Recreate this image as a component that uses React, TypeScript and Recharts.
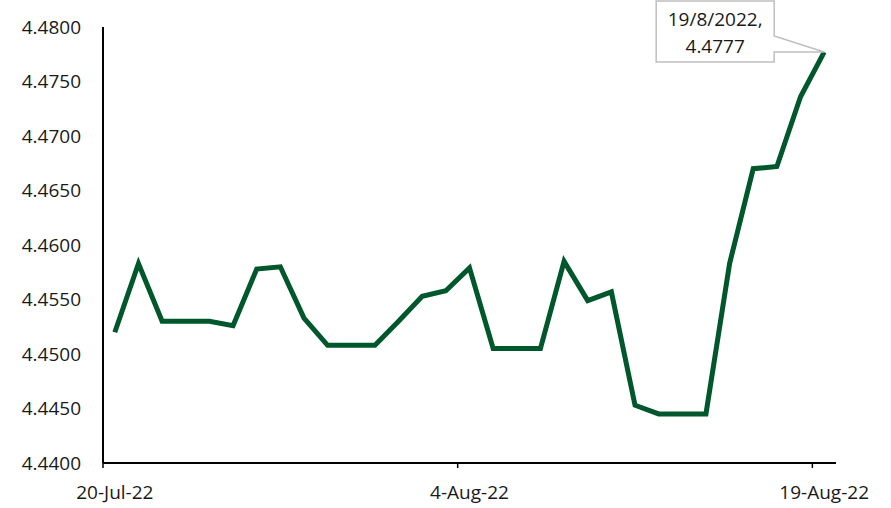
import { LineChart, Line, XAxis, YAxis } from 'recharts'

const dates = [
  '20-Jul-22', '21-Jul-22', '22-Jul-22', '23-Jul-22', '24-Jul-22', '25-Jul-22', '26-Jul-22', '27-Jul-22',
  '28-Jul-22', '29-Jul-22', '30-Jul-22', '31-Jul-22', '1-Aug-22', '2-Aug-22', '3-Aug-22', '4-Aug-22',
  '5-Aug-22', '6-Aug-22', '7-Aug-22', '8-Aug-22', '9-Aug-22', '10-Aug-22', '11-Aug-22', '12-Aug-22',
  '13-Aug-22', '14-Aug-22', '15-Aug-22', '16-Aug-22', '17-Aug-22', '18-Aug-22', '19-Aug-22',
]

const rates = [
  4.4520, 4.4583, 4.4530, 4.4530, 4.4530, 4.4526, 4.4578, 4.4580,
  4.4533, 4.4508, 4.4508, 4.4508, 4.4530, 4.4553, 4.4558, 4.4579,
  4.4505, 4.4505, 4.4505, 4.4585, 4.4549, 4.4557, 4.4453, 4.4445,
  4.4445, 4.4445, 4.4583, 4.4670, 4.4672, 4.4736, 4.4777,
]

const yTicks = [4.44, 4.445, 4.45, 4.455, 4.46, 4.465, 4.47, 4.475, 4.48]
const calloutDate = '19/8/2022'

const FONT = '"Open Sans", sans-serif'
const W = 891
const H = 508
const PLOT_LEFT = 103
const PLOT_RIGHT = 836
const PLOT_BOTTOM = 463
const HALF_BAND = (PLOT_RIGHT - PLOT_LEFT) / dates.length / 2

const data = dates.map((d, i) => ({ date: d, rate: rates[i] }))

function DateTick(props: any) {
  const { x, y, payload } = props
  return (
    <g>
      <line x1={x - HALF_BAND} x2={x - HALF_BAND} y1={y} y2={y + 5} stroke="#000" strokeWidth={1.5} />
      <text x={x} y={y + 36} textAnchor="middle" fontFamily={FONT} fontSize={19} fill="#1a1a1a">
        {payload.value}
      </text>
    </g>
  )
}

function Callout(props: any) {
  const { x, y, index, value } = props
  if (index !== rates.length - 1) return null
  const left = x - 168
  const right = x - 50
  const top = y - 51
  const bottom = y + 10
  const path = `M${left},${top} H${right} V${y - 16} L${x},${y} L${right},${y} V${bottom} H${left} Z`
  return (
    <g>
      <path d={path} fill="#fff" stroke="#bfbfbf" strokeWidth={1.5} />
      <text x={x - 109} y={y - 26} textAnchor="middle" fontFamily={FONT} fontSize={19} fill="#1a1a1a">
        {calloutDate},
      </text>
      <text x={x - 109} y={y + 1} textAnchor="middle" fontFamily={FONT} fontSize={19} fill="#1a1a1a">
        {Number(value).toFixed(4)}
      </text>
    </g>
  )
}

export default function App() {
  return (
    <div style={{ position: 'absolute', left: 0, top: 0, width: W, height: H, background: '#fff' }}>
      <LineChart
        width={W}
        height={H}
        data={data}
        margin={{ top: 27, right: W - PLOT_RIGHT, bottom: 0, left: 0 }}
      >
        <XAxis
          dataKey="date"
          interval={14}
          padding={{ left: HALF_BAND, right: HALF_BAND }}
          axisLine={{ stroke: '#000', strokeWidth: 2 }}
          tickLine={false}
          tickSize={0}
          tickMargin={0}
          tick={<DateTick />}
          height={H - PLOT_BOTTOM}
        />
        <YAxis
          width={PLOT_LEFT}
          domain={[4.44, 4.48]}
          ticks={yTicks}
          allowDataOverflow
          tickFormatter={(v: number) => v.toFixed(4)}
          axisLine={{ stroke: '#000', strokeWidth: 2 }}
          tickLine={false}
          tickSize={0}
          tickMargin={22}
          tick={{ fontFamily: FONT, fontSize: 19, fill: '#1a1a1a' }}
        />
        <Line
          dataKey="rate"
          type="linear"
          stroke="#00572b"
          strokeWidth={5}
          dot={false}
          activeDot={false}
          isAnimationActive={false}
          label={<Callout />}
        />
      </LineChart>
    </div>
  )
}
